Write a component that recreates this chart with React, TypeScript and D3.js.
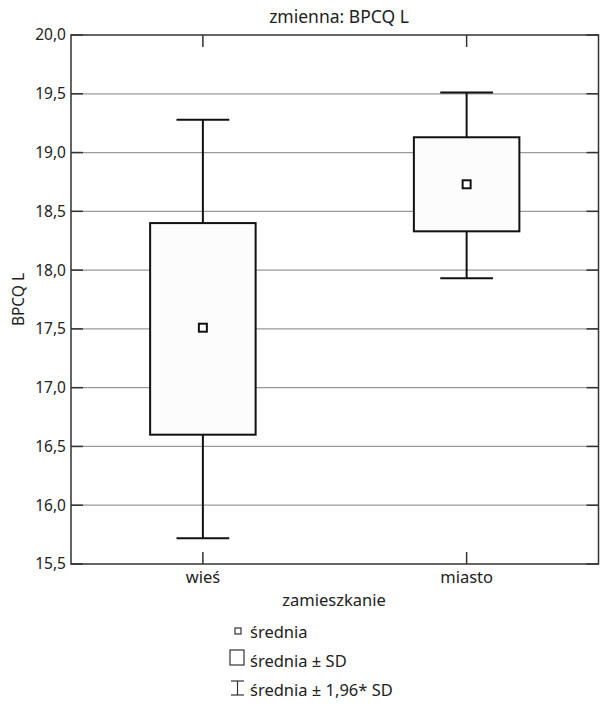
import React from "react";
import * as d3 from "d3";

// Categories and per-group statistics of BPCQ L
const categories = ["wieś", "miasto"];
const means = [17.51, 18.73];
const sdLow = [16.6, 18.33];
const sdHigh = [18.4, 19.13];
const ciLow = [15.72, 17.93];
const ciHigh = [19.28, 19.51];
const yTicks = [15.5, 16.0, 16.5, 17.0, 17.5, 18.0, 18.5, 19.0, 19.5, 20.0];

const W = 600;
const H = 711;
const margin = { left: 71, right: 1.5, top: 35, bottom: 147 };
const FONT = "'Noto Sans', 'Open Sans', sans-serif";

export default function App() {
  const x = d3
    .scaleBand<string>()
    .domain(categories)
    .range([margin.left, W - margin.right])
    .paddingInner(0)
    .paddingOuter(0);
  const y = d3
    .scaleLinear()
    .domain([15.5, 20.0])
    .range([H - margin.bottom, margin.top]);

  const fmt = (v: number) => v.toFixed(1).replace(".", ",");
  const bw = x.bandwidth();
  const boxW = bw * 0.4;
  const capW = boxW * 0.5;
  const x0 = margin.left;
  const x1 = W - margin.right;
  const yTop = y(20);
  const yBot = y(15.5);

  return (
    <div style={{ position: "absolute", left: 0, top: 0 }}>
      <svg width={W} height={H} style={{ display: "block", fontFamily: FONT }}>
        <rect width={W} height={H} fill="#fff" />
        {/* gridlines */}
        {yTicks
          .filter((t) => t > 15.5 && t < 20)
          .map((t) => (
            <line key={"g" + t} x1={x0} x2={x1} y1={y(t)} y2={y(t)} stroke="#9a9a9a" strokeWidth={1.3} />
          ))}
        {/* frame */}
        <rect x={x0} y={yTop} width={x1 - x0} height={yBot - yTop} fill="none" stroke="#333" strokeWidth={1.5} />
        {/* y ticks, left and right */}
        {yTicks.map((t) => (
          <g key={"t" + t}>
            <line x1={x0} x2={x0 + 12} y1={y(t)} y2={y(t)} stroke="#333" strokeWidth={1.5} />
            <line x1={x1} x2={x1 - 12} y1={y(t)} y2={y(t)} stroke="#333" strokeWidth={1.5} />
            <text x={x0 - 5} y={y(t)} dy="0.35em" textAnchor="end" fontSize={15.5} fill="#222">
              {fmt(t)}
            </text>
          </g>
        ))}
        {/* category ticks, top and bottom */}
        {categories.map((c) => {
          const cx = (x(c) as number) + bw / 2;
          return (
            <g key={"c" + c}>
              <line x1={cx} x2={cx} y1={yTop} y2={yTop + 12} stroke="#333" strokeWidth={1.5} />
              <line x1={cx} x2={cx} y1={yBot} y2={yBot - 12} stroke="#333" strokeWidth={1.5} />
              <text x={cx} y={yBot + 19} textAnchor="middle" fontSize={16.5} fill="#222">
                {c}
              </text>
            </g>
          );
        })}
        {/* boxes and whiskers */}
        {categories.map((c, i) => {
          const cx = (x(c) as number) + bw / 2;
          return (
            <g key={"b" + c} stroke="#111" strokeWidth={2} fill="none">
              <line x1={cx} x2={cx} y1={y(ciHigh[i])} y2={y(sdHigh[i])} />
              <line x1={cx} x2={cx} y1={y(sdLow[i])} y2={y(ciLow[i])} />
              <line x1={cx - capW / 2} x2={cx + capW / 2} y1={y(ciHigh[i])} y2={y(ciHigh[i])} />
              <line x1={cx - capW / 2} x2={cx + capW / 2} y1={y(ciLow[i])} y2={y(ciLow[i])} />
              <rect
                x={cx - boxW / 2}
                y={y(sdHigh[i])}
                width={boxW}
                height={y(sdLow[i]) - y(sdHigh[i])}
                fill="#fcfcfc"
              />
              <rect x={cx - 4} y={y(means[i]) - 4} width={8} height={8} fill="#fff" />
            </g>
          );
        })}
        {/* titles */}
        <text x={339} y={23} textAnchor="middle" fontSize={17.5} fill="#222">
          zmienna: BPCQ L
        </text>
        <text x={334} y={yBot + 42} textAnchor="middle" fontSize={16.5} fill="#222">
          zamieszkanie
        </text>
        <text
          transform={`translate(24, ${(yTop + yBot) / 2}) rotate(-90)`}
          textAnchor="middle"
          fontSize={15.5}
          fill="#222"
        >
          BPCQ L
        </text>
        {/* legend */}
        <g fill="#222" fontSize={16.5}>
          <rect x={235} y={628} width={6} height={6} fill="none" stroke="#333" strokeWidth={1.2} />
          <text x={250} y={638}>średnia</text>
          <rect x={230} y={650} width={14} height={15} fill="none" stroke="#333" strokeWidth={1.2} />
          <text x={250} y={667}>średnia ± SD</text>
          <g stroke="#333" strokeWidth={1.2}>
            <line x1={231} x2={244} y1={681} y2={681} />
            <line x1={237.5} x2={237.5} y1={681} y2={695} />
            <line x1={231} x2={244} y1={695} y2={695} />
          </g>
          <text x={250} y={696}>średnia ± 1,96* SD</text>
        </g>
      </svg>
    </div>
  );
}
